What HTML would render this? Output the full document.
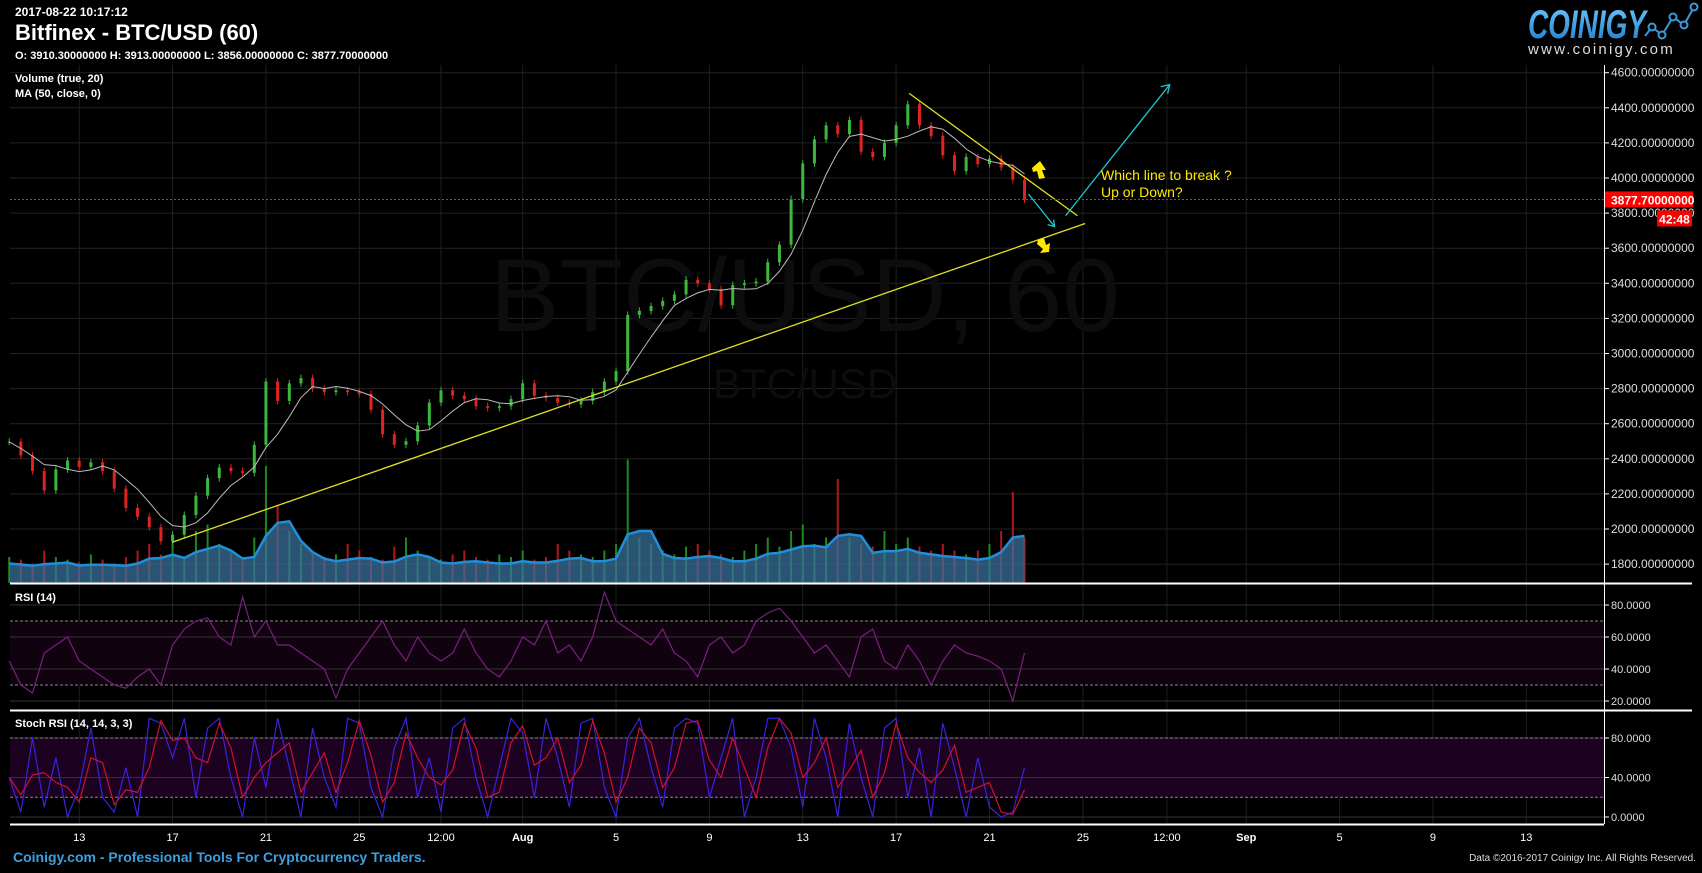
<!DOCTYPE html>
<html><head><meta charset="utf-8"><style>
html,body{margin:0;padding:0;background:#000;}
svg{display:block;font-family:"Liberation Sans",sans-serif;}
</style></head><body>
<svg id="c" width="1702" height="873" viewBox="0 0 1702 873" xmlns="http://www.w3.org/2000/svg">
<rect x="0" y="0" width="1702" height="873" fill="#000"/>
<g id="grid"></g>
<g id="wm">
<text x="805" y="331" font-size="104" fill="#0d0d0d" text-anchor="middle">BTC/USD, 60</text>
<text x="805" y="398" font-size="42" fill="#0d0d0d" text-anchor="middle">BTC/USD</text>
</g>
<g id="bands"></g>
<g id="vol"></g>
<g id="candles"></g>
<g id="ma"></g>
<g id="ind"></g>
<g id="ann"></g>
<g id="axes"></g>
<g id="hdr">
<text x="15" y="16" font-size="12" font-weight="bold" fill="#fff">2017-08-22 10:17:12</text>
<text x="15" y="40" font-size="22" font-weight="bold" fill="#fff">Bitfinex - BTC/USD (60)</text>
<text x="15" y="59" font-size="11" font-weight="bold" fill="#fff">O: 3910.30000000 H: 3913.00000000 L: 3856.00000000 C: 3877.70000000</text>
<text x="15" y="82" font-size="11" font-weight="bold" fill="#fff">Volume (true, 20)</text>
<text x="15" y="97" font-size="11" font-weight="bold" fill="#fff">MA (50, close, 0)</text>
<text x="15" y="601" font-size="11" font-weight="bold" fill="#fff">RSI (14)</text>
<text x="15" y="727" font-size="11" font-weight="bold" fill="#fff">Stoch RSI (14, 14, 3, 3)</text>
</g>
<g id="logo">
<defs><linearGradient id="lg" x1="0" y1="0" x2="0" y2="1"><stop offset="0" stop-color="#6ec8ff"/><stop offset="1" stop-color="#1a78c8"/></linearGradient></defs>
<text x="1528" y="38" font-size="40" font-weight="bold" font-style="italic" fill="url(#lg)" textLength="118" lengthAdjust="spacingAndGlyphs">COINIGY</text>
<polyline points="1645,36 1652,27 1662,35 1673,17 1684,25 1694,7" fill="none" stroke="#3a9ad8" stroke-width="2"/>
<circle cx="1652" cy="27" r="3.5" fill="#000" stroke="#3a9ad8" stroke-width="2"/>
<circle cx="1662" cy="35" r="3.5" fill="#000" stroke="#3a9ad8" stroke-width="2"/>
<circle cx="1673" cy="17" r="3.5" fill="#000" stroke="#3a9ad8" stroke-width="2"/>
<circle cx="1684" cy="25" r="3.5" fill="#000" stroke="#3a9ad8" stroke-width="2"/>
<circle cx="1694" cy="7" r="3.5" fill="#000" stroke="#3a9ad8" stroke-width="2"/>
<text x="1528" y="54" font-size="15" fill="#ddd" letter-spacing="2.2">www.coinigy.com</text>
</g>
<text x="13" y="862" font-size="14" font-weight="bold" fill="#3aa0e0">Coinigy.com - Professional Tools For Cryptocurrency Traders.</text>
<text x="1696" y="861" font-size="10" fill="#ddd" text-anchor="end">Data ©2016-2017 Coinigy Inc. All Rights Reserved.</text>
</svg>
<script>
// ---- data ----
const closes = [2497,2420,2330,2220,2340,2390,2354,2380,2330,2230,2120,2070,2010,1930,1968,2080,2190,2290,2350,2330,2320,2480,2840,2730,2830,2860,2800,2780,2790,2780,2770,2680,2540,2480,2500,2590,2720,2790,2760,2740,2700,2690,2700,2740,2830,2760,2746,2720,2710,2730,2780,2840,2900,3220,3243,3270,3300,3337,3420,3400,3368,3275,3390,3400,3410,3520,3620,3880,4083,4220,4300,4250,4330,4150,4120,4200,4300,4420,4300,4240,4130,4040,4120,4080,4110,4060,3990,3877.7];
const volumes = [20,18,15,25,20,18,16,22,18,15,20,25,30,22,35,20,40,45,30,25,20,35,90,60,40,30,25,20,22,30,25,20,18,28,35,25,20,18,22,25,20,18,22,20,25,18,20,30,25,22,20,25,30,95,35,30,25,22,28,30,25,22,20,25,30,35,28,40,45,30,35,80,35,30,28,40,30,35,28,25,30,25,22,25,30,40,70,35];
const rsi = [45,30,25,50,55,60,45,40,35,30,28,35,40,30,55,65,70,72,60,55,85,60,70,55,55,50,45,40,22,40,50,60,70,55,45,60,50,45,50,65,50,40,35,45,60,55,70,50,55,45,60,88,70,65,60,55,65,50,45,35,55,60,50,55,70,75,78,70,60,50,55,45,35,60,65,45,40,55,45,30,45,55,50,48,45,40,20,50];
const stochK = [40,5,80,10,60,0,30,90,20,5,50,0,100,95,60,100,20,90,100,40,0,80,30,100,50,0,90,40,10,100,95,30,0,70,100,20,60,5,90,100,40,0,50,100,85,20,100,60,10,95,100,30,0,80,100,50,10,90,100,95,20,60,100,0,40,100,100,70,10,100,60,0,95,40,0,90,100,20,70,0,95,50,0,60,10,0,5,50];
const priceTicks = [1800,2000,2200,2400,2600,2800,3000,3200,3400,3600,3800,4000,4200,4400,4600];
const rsiTicks = [20,40,60,80];
const stochTicks = [0,40,80];
const dateLabels = ["13","17","21","25","12:00","Aug","5","9","13","17","21","25","12:00","Sep","5","9","13"];
const dateDays = [3,7,11,15,18.5,22,26,30,34,38,42,46,49.6,53,57,61,65];
const lastPrice = 3877.7;
// ---- scales ----
const NS="http://www.w3.org/2000/svg";
const X0=9.2, DAY=23.34, SPAN=43.5;
const xd = d => X0 + d*DAY;
const xi = (i,n) => xd(i*SPAN/(n-1));
const yp = p => 72.7 + (4600-p)/200*35.1;
const yr = v => 701 - (v-20)*1.6;
const ys = v => 817 - v*0.9875;
const yv = v => 583 - v*1.3;
function el(tag, attrs, parent){const e=document.createElementNS(NS,tag);for(const k in attrs)e.setAttribute(k,attrs[k]);parent.appendChild(e);return e;}
const G=id=>document.getElementById(id);
const grid=G('grid');
priceTicks.forEach(p=>{const l=el('line',{x1:10,x2:1604,y1:yp(p),y2:yp(p),stroke:'#222','stroke-width':1},grid);

});
dateDays.forEach(d=>{const l=el('line',{x1:xd(d),x2:xd(d),y1:65,y2:824,stroke:'#1f1f1f','stroke-width':1},grid);

});
const bands=G('bands');
let b=el('rect',{x:10,y:yr(70),width:1594,height:yr(30)-yr(70),fill:'#10030f'},bands);


b=el('rect',{x:10,y:ys(80),width:1594,height:ys(20)-ys(80),fill:'#1c0220'},bands);


rsiTicks.forEach(v=>{el('line',{x1:10,x2:1604,y1:yr(v),y2:yr(v),stroke:'#333'},bands);});
[30,70].forEach(v=>{el('line',{x1:10,x2:1604,y1:yr(v),y2:yr(v),stroke:'#888','stroke-dasharray':'3,2'},bands);});
stochTicks.forEach(v=>{el('line',{x1:10,x2:1604,y1:ys(v),y2:ys(v),stroke:'#333'},bands);});
[20,80].forEach(v=>{el('line',{x1:10,x2:1604,y1:ys(v),y2:ys(v),stroke:'#888','stroke-dasharray':'3,2'},bands);});
const vol=G('vol');
const n=closes.length;
volumes.forEach((v,i)=>{const up=i===0||closes[i]>=closes[i-1];const x=xi(i,volumes.length);
const r=el('rect',{x:x-1,y:yv(v),width:2,height:583-yv(v),fill:up?'#1d8a1d':'#b01818'},vol);

});
const vma=volumes.map((v,i)=>{let s=0,c=0;for(let k=Math.max(0,i-2);k<=i;k++){s+=volumes[k];c++;}return s/c*0.75;});
let pts=vma.map((v,i)=>xi(i,vma.length).toFixed(1)+','+yv(v).toFixed(1));
const va=el('polygon',{points:xi(0,vma.length)+',583 '+pts.join(' ')+' '+xi(vma.length-1,vma.length)+',583',fill:'#3a6f9a','fill-opacity':'0.75'},vol);


const vl=el('polyline',{points:pts.join(' '),fill:'none',stroke:'#1e8fd8','stroke-width':2.5},vol);


const cg=G('candles');
closes.forEach((c,i)=>{const o=i===0?c:closes[i-1];const x=xi(i,n);const up=c>=o;const col=up?'#3cb83c':'#e02424';
const hi=Math.max(o,c)+20, lo=Math.min(o,c)-20;
const w=el('line',{x1:x,x2:x,y1:yp(hi),y2:yp(lo),stroke:col,'stroke-width':1},cg);


const top=yp(Math.max(o,c)),h=Math.max(1,Math.abs(yp(o)-yp(c)));
const r=el('rect',{x:x-1.5,y:top,width:3,height:h,fill:col},cg);

});
const ma=closes.map((v,i)=>{let s=0,c=0;for(let k=Math.max(0,i-4);k<=i;k++){s+=closes[k];c++;}return s/c;});
const ml=el('polyline',{points:ma.map((v,i)=>xi(i,n).toFixed(1)+','+yp(v).toFixed(1)).join(' '),fill:'none',stroke:'#bbb','stroke-width':1},G('ma'));


const ind=G('ind');
const rl=el('polyline',{points:rsi.map((v,i)=>xi(i,rsi.length).toFixed(1)+','+yr(v).toFixed(1)).join(' '),fill:'none',stroke:'#7a1f80','stroke-width':1.2},ind);


const stochD=stochK.map((v,i)=>{let s=0,c=0;for(let k=Math.max(0,i-1);k<=i;k++){s+=stochK[k];c++;}return s/c;});
const kl=el('polyline',{points:stochK.map((v,i)=>xi(i,stochK.length).toFixed(1)+','+ys(v).toFixed(1)).join(' '),fill:'none',stroke:'#3a22e0','stroke-width':1.2},ind);


const dl=el('polyline',{points:stochD.map((v,i)=>xi(i,stochD.length).toFixed(1)+','+ys(v).toFixed(1)).join(' '),fill:'none',stroke:'#d01030','stroke-width':1.2},ind);


const ann=G('ann');
const ln=(d1,p1,d2,p2,col,name)=>{const l=el('line',{x1:xd(d1),y1:yp(p1),x2:xd(d2),y2:yp(p2),stroke:col,'stroke-width':1.3},ann);

return l;};
ln(7,1925,46.1,3741,'#e0e020','support-trendline');
ln(38.56,4482,45.77,3785,'#e0e020','resistance-trendline');
ln(45.26,3785,49.72,4532,'#20c8d0','up-scenario-arrow');
ln(43.67,3909,44.79,3723,'#20c8d0','down-scenario-arrow');
el('polyline',{points:`${xd(49.72)-9},${yp(4532)+2} ${xd(49.72)},${yp(4532)} ${xd(49.72)-2},${yp(4532)+9}`,fill:'none',stroke:'#20c8d0','stroke-width':1.3},ann);
el('polyline',{points:`${xd(44.79)-7},${yp(3723)-2} ${xd(44.79)},${yp(3723)} ${xd(44.79)-1},${yp(3723)-7}`,fill:'none',stroke:'#20c8d0','stroke-width':1.3},ann);
const ua=el('polygon',{points:'1032,168 1040,161 1046,170 1042,170 1045,178 1039,179 1037,171 1033,172',fill:'#ffe800'},ann);


const da=el('polygon',{points:'1038,240 1044,238 1046,245 1050,243 1049,252 1040,253 1043,249 1037,244',fill:'#ffe800'},ann);


let t=el('text',{x:1101,y:180,'font-size':14,fill:'#ffe800'},ann);t.textContent='Which line to break ?';


t=el('text',{x:1101,y:197,'font-size':14,fill:'#ffe800'},ann);t.textContent='Up or Down?';


const lp=el('line',{x1:10,x2:1604,y1:yp(lastPrice),y2:yp(lastPrice),stroke:'#ff1a1a','stroke-dasharray':'2,2'},ann);


const ax=G('axes');
el('line',{x1:1604.5,x2:1604.5,y1:65,y2:824,stroke:'#fff'},ax);
el('line',{x1:10,x2:1692,y1:583.5,y2:583.5,stroke:'#fff','stroke-width':2},ax);
el('line',{x1:10,x2:1692,y1:710.5,y2:710.5,stroke:'#fff','stroke-width':2},ax);
el('line',{x1:10,x2:1604,y1:824.5,y2:824.5,stroke:'#fff','stroke-width':2},ax);
priceTicks.forEach(p=>{el('line',{x1:1604,x2:1609,y1:yp(p),y2:yp(p),stroke:'#fff'},ax);
const tx=el('text',{x:1611,y:yp(p)+4,'font-size':12,fill:'#ddd'},ax);tx.textContent=p.toFixed(8);

});
rsiTicks.forEach(v=>{el('line',{x1:1604,x2:1609,y1:yr(v),y2:yr(v),stroke:'#fff'},ax);
const tx=el('text',{x:1611,y:yr(v)+4,'font-size':11,fill:'#ddd'},ax);tx.textContent=v.toFixed(4);

});
stochTicks.forEach(v=>{el('line',{x1:1604,x2:1609,y1:ys(v),y2:ys(v),stroke:'#fff'},ax);
const tx=el('text',{x:1611,y:ys(v)+4,'font-size':11,fill:'#ddd'},ax);tx.textContent=v.toFixed(4);

});
dateLabels.forEach((s,i)=>{const tx=el('text',{x:xd(dateDays[i]),y:841,'font-size':11,'font-weight':(s==='Aug'||s==='Sep')?'bold':'normal',fill:'#fff','text-anchor':'middle'},ax);tx.textContent=s;

});
const pb=el('rect',{x:1605,y:yp(lastPrice)-8,width:88,height:16,fill:'#f00'},ax);


let pt=el('text',{x:1611,y:yp(lastPrice)+5,'font-size':12,'font-weight':'bold',fill:'#fff'},ax);pt.textContent=lastPrice.toFixed(8);


const cb=el('rect',{x:1657,y:yp(lastPrice)+11,width:35,height:16,fill:'#f00'},ax);


pt=el('text',{x:1674.5,y:yp(lastPrice)+24,'font-size':12,'font-weight':'bold',fill:'#fff','text-anchor':'middle'},ax);pt.textContent='42:48';


</script>
</body></html>
